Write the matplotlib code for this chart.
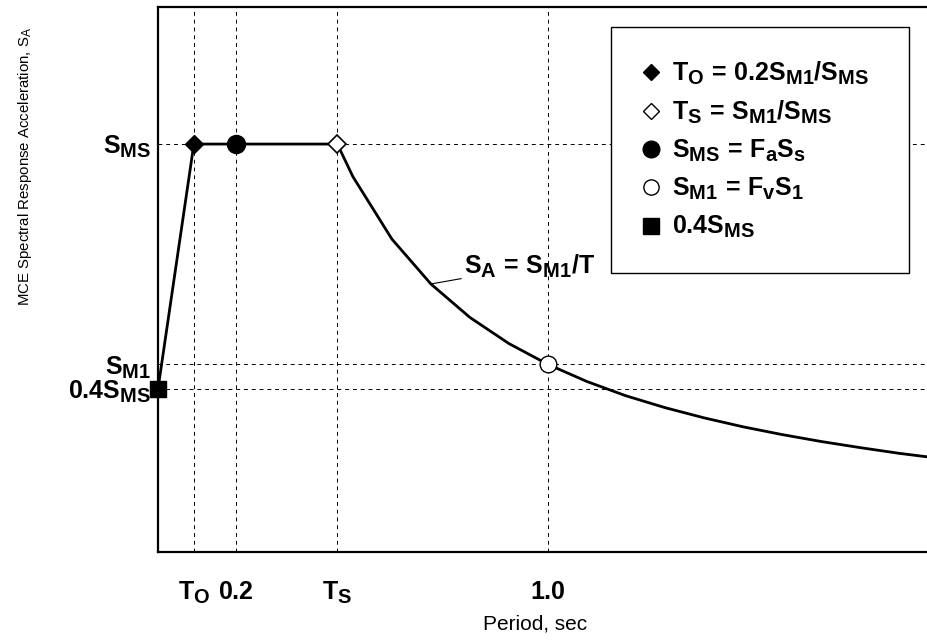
import matplotlib
matplotlib.use("Agg")
import matplotlib.pyplot as plt
import matplotlib._mathtext as mathtext_mod
from matplotlib.lines import Line2D

plt.rcParams['font.family'] = 'Liberation Sans'
plt.rcParams['mathtext.fontset'] = 'custom'
plt.rcParams['mathtext.rm'] = 'Liberation Sans'
plt.rcParams['mathtext.bf'] = 'Liberation Sans:bold'
plt.rcParams['mathtext.it'] = 'Liberation Sans:italic'
# the subscripts in the figure are a bit bigger than mathtext's default
mathtext_mod.SHRINK_FACTOR = 0.8

# design values (normalised so S_MS = 1)
S_MS = 1.0
S_M1 = 0.46
T_0 = 0.092
T_S = 0.46

# response spectrum
periods = [0.0, 0.092, 0.2, 0.46, 0.5, 0.6, 0.7, 0.8, 0.9, 1.0, 1.1, 1.2, 1.3,
           1.4, 1.5, 1.6, 1.7, 1.8, 1.9, 2.0]
sa = [0.40, 1.0, 1.0, 1.0, 0.92, 0.767, 0.657, 0.575, 0.511, 0.46, 0.418,
      0.383, 0.354, 0.329, 0.307, 0.288, 0.271, 0.256, 0.242, 0.23]

xtick_pos = [T_0, 0.2, T_S, 1.0]
xtick_lbl = [r'$\mathbf{T_O}$', r'$\mathbf{0.2}$', r'$\mathbf{T_S}$', r'$\mathbf{1.0}$']
ytick_pos = [0.4 * S_MS, S_M1, S_MS]
ytick_lbl = [r'$\mathbf{0.4S_{MS}}$', r'$\mathbf{S_{M1}}$', r'$\mathbf{S_{MS}}$']

fig = plt.figure(figsize=(9.28, 6.42), dpi=100)
ax = fig.add_axes([158 / 928, 90 / 642, 1 - 158 / 928, 545 / 642])
ax.set_xlim(0, 1.975)
ax.set_ylim(0, 1.336)
ax.spines['right'].set_visible(False)
for s in ['left', 'bottom', 'top']:
    ax.spines[s].set_linewidth(1.6)

# dashed reference lines
for xv in xtick_pos:
    ax.axvline(xv, color='black', lw=0.7, ls=(0, (4, 4)), zorder=1)
for yv in ytick_pos:
    ax.axhline(yv, color='black', lw=0.7, ls=(0, (4, 4)), zorder=1)

ax.plot(periods, sa, color='black', lw=2.0, zorder=3)

# markers
ax.plot(T_0, S_MS, 'D', ms=9, color='black', zorder=5, clip_on=False)
ax.plot(T_S, S_MS, 'D', ms=9, mfc='white', mec='black', mew=1.2, zorder=5)
ax.plot(0.2, S_MS, 'o', ms=13, color='black', zorder=5)
ax.plot(1.0, S_M1, 'o', ms=12, mfc='white', mec='black', mew=1.0, zorder=5)
ax.plot(0.0, 0.4 * S_MS, 's', ms=12, color='black', zorder=5, clip_on=False)

ax.annotate(r'$\mathbf{S_A\,=\,S_{M1}/T}$', xy=(0.70, 0.657), xytext=(0.785, 0.70),
            fontsize=18, va='center', ha='left',
            arrowprops=dict(arrowstyle='-', color='black', lw=0.8, shrinkA=0, shrinkB=0))

ax.set_xticks(xtick_pos)
ax.set_xticklabels(xtick_lbl, fontsize=18)
ax.set_yticks(ytick_pos)
ax.set_yticklabels(ytick_lbl, fontsize=18)
ax.tick_params(axis='x', length=0, pad=20)
ax.tick_params(axis='y', length=0, pad=5)

fig.text(535 / 928, 1 - 624 / 642, 'Period, sec', fontsize=15, ha='center', va='center')
fig.text(25 / 928, 1 - 166 / 642, r'MCE Spectral Response Acceleration, S$_\mathrm{A}$',
         fontsize=10.8, rotation=90, ha='center', va='center')

handles = [
    Line2D([], [], ls='none', marker='D', ms=8, color='black'),
    Line2D([], [], ls='none', marker='D', ms=8, mfc='white', mec='black'),
    Line2D([], [], ls='none', marker='o', ms=12, color='black'),
    Line2D([], [], ls='none', marker='o', ms=11, mfc='white', mec='black'),
    Line2D([], [], ls='none', marker='s', ms=11, color='black'),
]
labels = [
    r'$\mathbf{T_O\,=\,0.2S_{M1}/S_{MS}}$',
    r'$\mathbf{T_S\,=\,S_{M1}/S_{MS}}$',
    r'$\mathbf{S_{MS}\,=\,F_aS_s}$',
    r'$\mathbf{S_{M1}\,=\,F_vS_1}$',
    r'$\mathbf{0.4S_{MS}}$',
]
leg = ax.legend(handles, labels, loc='upper left',
                bbox_to_anchor=(611 / 928, 1 - 272 / 642, 298 / 928, 245 / 642),
                bbox_transform=fig.transFigure, mode='expand', borderaxespad=0,
                fontsize=18, frameon=True, fancybox=False, framealpha=1,
                edgecolor='black', borderpad=1.3, labelspacing=0.48,
                handletextpad=0.52, handlelength=0.6)
leg.get_frame().set_linewidth(1.0)
leg.set_zorder(10)

plt.savefig('out.png', dpi=100)
